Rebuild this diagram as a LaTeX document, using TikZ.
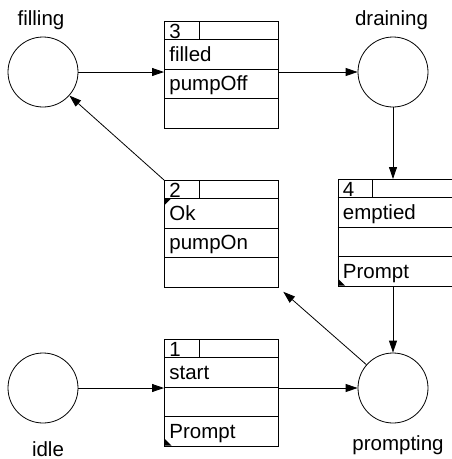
\documentclass[tikz,border=0pt]{standalone}
\usepackage{fontspec}
\setmainfont{Liberation Sans}
\usetikzlibrary{arrows.meta}
\newcommand\tbx[7]{%
  \node[tbox] (#1) at (#2,#3) {};
  \draw (#2,#3+18) -- ++(114,0);
  \draw (#2,#3+48) -- ++(114,0);
  \draw (#2,#3+77) -- ++(114,0);
  \draw (#2+35,#3) -- (#2+35,#3+18);
  \node[lbl] (#1n) at (#2+5,#3+17) {#4};
  \node[lbl] (#1a) at (#2+5,#3+40.5) {#5};
  \node[lbl] (#1b) at (#2+5,#3+69.5) {#6};
  \node[lbl] (#1c) at (#2+5,#3+99.5) {#7};
}
\begin{document}
\begin{tikzpicture}[x=1pt,y=-1pt,line width=0.8pt,
  place/.style={draw,circle,minimum size=70pt,inner sep=0pt},
  tbox/.style={draw,rectangle,minimum width=114pt,minimum height=107pt,inner sep=0pt,anchor=north west},
  lbl/.style={font=\fontsize{20.5}{24}\selectfont,inner sep=0pt,anchor=base west},
  plab/.style={font=\fontsize{20.5}{24}\selectfont,inner sep=0pt,anchor=base},
  arr/.style={-{Triangle[length=12pt,width=8pt]}},
  cornermark/.style={fill=black,draw=none}]
\useasboundingbox (0,0) rectangle (452,459);
% places
\node[place] (filling) at (43,72) {};
\node[place] (draining) at (393,72) {};
\node[place] (idle) at (43,388) {};
\node[place] (prompting) at (393,388) {};
\node[plab] (fillingl) at (41,25) {filling};
\node[plab] (drainingl) at (391.5,25) {draining};
\node[plab] (idlel) at (48,456) {idle};
\node[plab] (promptingl) at (398,450) {prompting};
% transitions
\tbx{t3}{164}{21}{3}{filled}{pumpOff}{}
\tbx{t2}{164}{180}{2}{Ok}{pumpOn}{}
\tbx{t4}{337.5}{179}{4}{emptied}{}{Prompt}
\tbx{t1}{164}{339}{1}{start}{}{Prompt}
% corner marks
\fill[cornermark] (164.5,198) -- ++(7,0) -- ++(-7,7) -- cycle;
\fill[cornermark] (338,285.5) -- ++(7,0) -- ++(-7,-7) -- cycle;
\fill[cornermark] (164.5,445.5) -- ++(7,0) -- ++(-7,-7) -- cycle;
% arcs
\draw[arr] (filling) -- (filling -| t3.west);
\draw[arr] (t3.east |- draining) -- (draining);
\draw[arr] (draining) -- (draining |- t4.north);
\draw[arr] (draining |- t4.south) -- (prompting);
\draw[arr,shorten >=6pt] (prompting) -- (t2.south east);
\draw[arr] (t2.north west) -- (filling);
\draw[arr] (idle) -- (idle -| t1.west);
\draw[arr] (t1.east |- prompting) -- (prompting);
\end{tikzpicture}
\end{document}
